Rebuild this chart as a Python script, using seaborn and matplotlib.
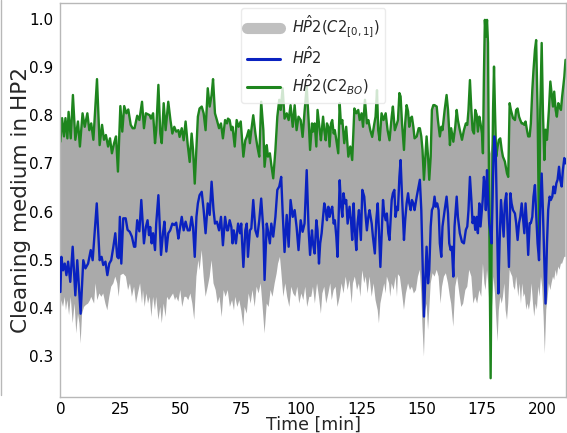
import numpy as np
import pandas as pd
import matplotlib
matplotlib.use("Agg")
import matplotlib.pyplot as plt
from matplotlib.lines import Line2D
import seaborn as sns

# ---------------- data ----------------
green_t = [0, 0.7, 1.5, 2.1, 2.9, 3.4, 4.3, 5.2, 6.2, 7.3, 8.1, 9.2, 10.1, 11.2, 12.0, 12.8, 13.7, 15.2, 16.3, 17.3,
           18.1, 18.9, 19.8, 20.6, 21.4, 22.3, 23.1, 23.9, 24.9, 25.7, 26.5, 27.4, 28.2, 29.2, 30.0, 30.8, 31.9, 32.8,
           33.9, 34.7, 35.5,
           37.1, 37.6, 38.5, 39.3, 39.8, 40.7, 41.5, 42.1, 42.9, 43.7, 44.8, 45.7, 46.5, 47.3, 48.1, 49.0, 49.5, 50.4,
           51.2, 52.0, 52.9, 53.7, 54.5, 55.1, 55.8, 56.5, 57.1, 57.8, 58.7, 59.5, 60.3, 61.2, 62.0, 62.8, 63.4, 64.2,
           65.0, 65.9, 66.7, 67.5, 68.4, 69.2,
           69.6, 70.3, 71.0, 71.5, 72.4, 73.2, 74.0, 74.9, 75.4, 76.0, 76.8, 77.4, 78.2, 78.7, 79.3, 80.1, 81.0, 81.8,
           82.6, 83.4, 84.3, 84.8, 85.7, 86.2, 87.0, 87.6, 88.4, 89.3, 90.1, 90.9, 91.5, 92.3, 93.1, 94.0, 94.8, 95.6,
           96.5, 97.3, 98.1, 98.9, 99.8, 100.6, 101.4, 102.3, 103.1, 103.7, 104.5,
           104.9, 105.6, 106.3, 106.8, 107.7, 108.2, 109.1, 109.6, 110.2, 110.7, 111.3, 111.8, 112.4, 112.9, 113.5,
           114.0, 114.6, 115.4, 116.0, 116.5, 117.1, 117.9, 118.7, 119.6, 120.4, 121.2, 122.1, 122.9, 123.7, 124.3,
           125.1, 125.7, 126.5, 127.3, 127.9, 128.7, 129.5, 130.4, 130.9, 131.5, 132.0, 132.6, 133.4, 134.2, 135.1,
           135.9, 136.7, 137.6, 138.1, 138.9, 139.8,
           140.2, 140.8, 141.3, 141.9, 142.7, 143.2, 143.8, 144.4, 144.9, 145.5, 146.0, 146.6, 147.1, 148.0, 148.8,
           149.3, 149.9, 150.4, 151.0, 151.6, 152.1, 152.7, 153.2, 153.8, 154.3, 154.9, 155.4, 156.3, 156.8, 157.6,
           158.2, 158.7, 159.6, 160.4, 161.0, 161.8, 162.3, 163.2, 164.0, 164.6, 165.1, 165.9, 166.8, 167.6, 168.4,
           169.0, 169.5, 170.1, 170.7, 171.2, 171.8, 172.3, 172.9, 173.4, 174.0, 174.5, 175.1,
           175.5, 175.9, 176.3, 176.7, 177.2, 177.6, 178.1, 178.7, 179.2, 179.7, 180.1, 180.5, 181.0, 181.6, 182.1,
           182.7, 183.3, 183.8, 184.6, 185.5, 186.0, 186.6, 187.1, 188.0, 188.8, 189.3, 189.9, 190.5, 191.0, 191.6,
           192.1, 192.7, 193.2, 193.8, 194.3, 194.9, 195.4, 196.0, 196.5, 197.1, 197.6, 198.2, 198.8, 199.3, 199.9,
           200.4, 201.0, 201.5, 202.1, 202.9, 203.5, 204.0, 204.6, 205.1, 205.7, 206.2, 206.8, 207.3, 207.9, 208.4,
           209.3, 209.8]
green_v = [0.745, 0.794, 0.756, 0.794, 0.752, 0.807, 0.752, 0.842, 0.749, 0.787, 0.735, 0.804, 0.776, 0.804, 0.769,
           0.783, 0.749, 0.875, 0.738, 0.780, 0.749, 0.759, 0.735, 0.752, 0.721, 0.742, 0.756, 0.683, 0.819, 0.766,
           0.819, 0.804, 0.812, 0.780, 0.773, 0.773, 0.799, 0.790, 0.828, 0.773, 0.804,
           0.800, 0.793, 0.804, 0.742, 0.769, 0.863, 0.762, 0.742, 0.825, 0.769, 0.828, 0.790, 0.762, 0.776, 0.766,
           0.769, 0.755, 0.773, 0.748, 0.787, 0.738, 0.703, 0.762, 0.728, 0.658, 0.735, 0.797, 0.814, 0.818, 0.804,
           0.769, 0.856, 0.818, 0.842, 0.875, 0.804, 0.790, 0.773, 0.783, 0.752, 0.790, 0.783,
           0.793, 0.790, 0.769, 0.776, 0.735, 0.790, 0.776, 0.787, 0.755, 0.714, 0.748, 0.755, 0.769, 0.742, 0.769,
           0.800, 0.762, 0.735, 0.714, 0.828, 0.769, 0.693, 0.738, 0.714, 0.721, 0.697, 0.669, 0.728, 0.797, 0.832,
           0.811, 0.856, 0.793, 0.804, 0.790, 0.821, 0.776, 0.821, 0.769, 0.797, 0.790, 0.755, 0.807, 0.859, 0.790,
           0.728, 0.783,
           0.766, 0.783, 0.735, 0.811, 0.769, 0.748, 0.797, 0.769, 0.748, 0.783, 0.776, 0.735, 0.783, 0.790, 0.762,
           0.769, 0.748, 0.721, 0.825, 0.783, 0.790, 0.742, 0.776, 0.714, 0.735, 0.707, 0.814, 0.804, 0.811, 0.790,
           0.804, 0.776, 0.832, 0.783, 0.790, 0.769, 0.755, 0.783, 0.797, 0.852, 0.769, 0.748, 0.804, 0.790, 0.804,
           0.769, 0.748, 0.797, 0.818, 0.769, 0.783,
           0.790, 0.846, 0.839, 0.783, 0.728, 0.783, 0.821, 0.808, 0.776, 0.794, 0.797, 0.776, 0.752, 0.756, 0.773,
           0.773, 0.756, 0.728, 0.666, 0.714, 0.756, 0.714, 0.666, 0.714, 0.811, 0.821, 0.821, 0.818, 0.790, 0.756,
           0.776, 0.769, 0.811, 0.842, 0.811, 0.738, 0.773, 0.745, 0.776, 0.811, 0.790, 0.769, 0.749, 0.769, 0.783,
           0.780, 0.811, 0.873, 0.811, 0.769, 0.762, 0.811, 0.801, 0.766, 0.797, 0.783, 0.762,
           0.721, 0.880, 0.998, 0.963, 0.998, 0.950, 0.603, 0.254, 0.603, 0.811, 0.901, 0.811, 0.714, 0.735, 0.749,
           0.752, 0.728, 0.714, 0.704, 0.679, 0.672, 0.825, 0.811, 0.794, 0.790, 0.811, 0.814, 0.797, 0.790, 0.783,
           0.783, 0.780, 0.787, 0.769, 0.756, 0.756, 0.783, 0.852, 0.894, 0.936, 0.956, 0.811, 0.541, 0.811, 0.950,
           0.811, 0.707, 0.770, 0.749, 0.811, 0.870, 0.846, 0.818, 0.849, 0.811, 0.797, 0.825, 0.818, 0.811, 0.839,
           0.880, 0.915]

# upper edge of the grey band where it departs from the BO curve (its deep dip near t = 178-179)
band_top_t = [178.1, 178.7, 179.2]
band_top_v = [0.740, 0.720, 0.740]

blue_t = [0, 0.4, 1.1, 1.8, 2.5, 3.2, 4.1, 5.1, 6.2, 7.0, 8.4, 9.5, 10.4, 11.5, 12.6, 13.4, 15.1, 16.3, 17.1, 17.8,
          18.7, 19.5, 20.3, 21.1, 22.0, 22.8, 23.6, 24.2, 24.7, 25.3, 26.1, 27.1, 27.9, 28.8, 29.7, 30.6, 31.1, 31.9,
          32.8, 33.6, 34.7, 35.5,
          36.2, 36.8, 37.3, 37.9, 38.5, 39.3, 39.8, 40.7, 41.8, 42.6, 43.2, 44.0, 44.8, 45.6, 46.5, 47.3, 48.1, 49.0,
          49.5, 50.4, 51.2, 52.0, 52.9, 53.7, 54.5, 55.1, 55.8, 56.5, 57.1, 57.8, 58.7, 59.5, 60.3, 61.2, 62.0, 62.8,
          63.6, 64.2, 65.0, 65.9, 66.7, 67.5, 68.4, 69.2,
          69.6, 70.3, 71.0, 71.5, 72.0, 72.9, 73.8, 74.6, 75.1, 76.0, 76.8, 77.4, 77.9, 78.7, 79.3, 80.1, 81.0, 81.8,
          82.6, 83.4, 84.3, 84.8, 85.7, 86.2, 87.0, 87.6, 88.4, 89.3, 90.1, 90.9, 91.7, 92.3, 93.1, 94.0, 94.8, 95.6,
          96.5, 97.3, 98.1, 98.9, 99.8, 100.6, 101.4, 102.3, 103.1, 103.7, 104.5,
          104.9, 105.6, 106.3, 106.8, 107.4, 107.9, 108.5, 109.1, 109.6, 110.2, 110.7, 111.3, 111.8, 112.4, 112.9,
          113.5, 114.0, 114.6, 115.1, 116.0, 116.5, 117.1, 117.6, 118.2, 118.7, 119.3, 120.1, 120.7, 121.2, 121.8,
          122.3, 122.9, 123.4, 124.0, 124.8, 125.4, 126.2, 126.8, 127.3, 127.9, 128.4, 129.3, 129.8, 130.6, 131.2,
          131.8, 132.3, 132.9, 133.4, 134.0, 134.5, 135.1, 135.6, 136.2, 136.7, 137.6, 138.1, 138.7, 139.2, 139.8,
          140.2, 140.8, 141.3, 141.9, 142.7, 143.2, 143.8, 144.4, 144.9, 145.5, 146.0, 146.6, 147.1, 148.0, 148.8,
          149.3, 149.9, 150.4, 151.0, 151.6, 152.1, 152.7, 153.2, 153.8, 154.3, 154.9, 155.4, 155.9, 156.5, 157.1,
          157.6, 158.2, 158.7, 159.6, 160.4, 161.0, 161.5, 162.1, 162.6, 163.2, 163.7, 164.6, 165.1, 165.9, 166.8,
          167.6, 168.4, 169.0, 169.5, 170.1, 170.7, 171.2, 171.8, 172.3, 172.9, 173.4, 174.0, 174.5, 175.4,
          175.9, 176.3, 176.7, 177.2, 177.6, 178.1, 178.5, 179.1, 179.7, 180.2, 180.8, 181.3, 181.9, 182.4, 183.0,
          183.5, 184.1, 184.6, 185.2, 185.7, 186.3, 186.9, 187.4, 188.0, 188.8, 189.3, 189.9, 190.5, 191.0, 191.6,
          192.1, 192.7, 193.2, 193.8, 194.3, 194.9, 195.4, 196.0, 196.5, 197.1, 197.6, 198.2, 198.8, 199.3, 199.9,
          200.4, 201.0, 201.5, 202.1, 202.6, 203.2, 203.7, 204.3, 204.8, 205.4, 206.0, 206.5, 207.1, 207.6, 208.2,
          208.7, 209.3, 209.8]
blue_v = [0.433, 0.506, 0.478, 0.492, 0.468, 0.496, 0.454, 0.527, 0.426, 0.499, 0.388, 0.499, 0.482, 0.492, 0.520,
          0.499, 0.617, 0.499, 0.506, 0.489, 0.496, 0.468, 0.492, 0.499, 0.527, 0.555, 0.506, 0.503, 0.589, 0.492,
          0.586, 0.586, 0.562, 0.558, 0.548, 0.527, 0.527, 0.582, 0.559, 0.624, 0.534, 0.568,
          0.582, 0.551, 0.568, 0.534, 0.555, 0.520, 0.575, 0.634, 0.510, 0.555, 0.579, 0.517, 0.555, 0.561, 0.575,
          0.572, 0.577, 0.544, 0.561, 0.589, 0.561, 0.579, 0.561, 0.561, 0.589, 0.568, 0.506, 0.589, 0.617, 0.634,
          0.641, 0.603, 0.555, 0.617, 0.593, 0.662, 0.603, 0.575, 0.579, 0.561, 0.589, 0.530, 0.589, 0.561,
          0.561, 0.582, 0.568, 0.534, 0.561, 0.534, 0.575, 0.555, 0.575, 0.485, 0.561, 0.575, 0.506, 0.561, 0.565,
          0.624, 0.561, 0.548, 0.582, 0.627, 0.561, 0.458, 0.575, 0.561, 0.534, 0.575, 0.548, 0.589, 0.645, 0.652,
          0.672, 0.600, 0.516, 0.593, 0.527, 0.624, 0.589, 0.603, 0.568, 0.520, 0.582, 0.558, 0.575, 0.686, 0.561,
          0.510, 0.561,
          0.534, 0.513, 0.582, 0.561, 0.492, 0.534, 0.555, 0.589, 0.617, 0.603, 0.582, 0.610, 0.589, 0.603, 0.610,
          0.575, 0.582, 0.548, 0.506, 0.665, 0.617, 0.589, 0.638, 0.617, 0.624, 0.575, 0.610, 0.582, 0.541, 0.617,
          0.561, 0.520, 0.575, 0.603, 0.541, 0.645, 0.631, 0.589, 0.561, 0.589, 0.603, 0.575, 0.548, 0.513, 0.582,
          0.617, 0.561, 0.485, 0.548, 0.624, 0.596, 0.582, 0.596, 0.555, 0.541, 0.624, 0.638, 0.645, 0.589, 0.610,
          0.603, 0.672, 0.707, 0.631, 0.541, 0.582, 0.617, 0.638, 0.617, 0.603, 0.624, 0.617, 0.603, 0.631, 0.652,
          0.666, 0.603, 0.499, 0.382, 0.465, 0.527, 0.451, 0.479, 0.569, 0.603, 0.610, 0.631, 0.610, 0.617, 0.603,
          0.534, 0.506, 0.569, 0.603, 0.631, 0.596, 0.534, 0.520, 0.527, 0.465, 0.569, 0.631, 0.589, 0.555, 0.537,
          0.534, 0.562, 0.569, 0.603, 0.672, 0.624, 0.576, 0.589, 0.562, 0.589, 0.555, 0.617, 0.569, 0.624,
          0.672, 0.652, 0.603, 0.686, 0.631, 0.575, 0.562, 0.534, 0.672, 0.756, 0.728, 0.589, 0.430, 0.534, 0.624,
          0.589, 0.548, 0.617, 0.638, 0.569, 0.485, 0.638, 0.617, 0.603, 0.596, 0.576, 0.541, 0.576, 0.589, 0.617,
          0.589, 0.555, 0.617, 0.569, 0.510, 0.576, 0.576, 0.589, 0.631, 0.655, 0.596, 0.534, 0.499, 0.603, 0.679,
          0.603, 0.499, 0.409, 0.534, 0.603, 0.631, 0.624, 0.631, 0.652, 0.638, 0.659, 0.666, 0.693, 0.666, 0.652,
          0.686, 0.711, 0.700]

lower_t = [0, 0.4, 1.1, 1.8, 2.3, 2.9, 3.6, 4.3, 5.1, 5.9, 6.6, 7.3, 7.9, 8.4, 9.0, 9.8, 10.6, 11.5, 12.3, 12.8,
           14.0, 14.6, 15.3, 16.2, 17.0, 17.8, 18.7, 19.5, 20.3, 21.1, 22.0, 22.8, 23.6, 24.2, 25.0, 26.1, 27.2, 28.1,
           28.9, 29.7, 30.6, 31.4, 32.2, 33.1, 33.9,
           34.3, 35.0, 35.7, 36.4, 37.1, 37.8, 38.5, 39.3, 39.8, 40.7, 41.5, 42.1, 42.9, 43.7, 44.3, 45.1, 45.9, 46.8,
           47.6, 48.1, 49.0, 49.8, 50.6, 51.5, 52.3, 53.1, 54.0, 54.8, 55.6, 56.5, 57.3, 57.8, 58.7, 59.5, 60.3, 61.2,
           62.0, 62.8, 63.6, 64.5, 65.3, 66.1, 67.0, 67.8, 68.6, 69.5,
           70.4, 71.3, 72.1, 72.6, 73.5, 74.3, 75.1, 76.0, 76.5, 77.4, 78.2, 79.0, 79.8, 80.7, 81.5, 82.3, 83.2, 84.0,
           84.8, 85.7, 86.5, 87.3, 88.1, 89.0, 89.8, 90.4, 91.2, 91.7, 92.6, 93.4, 94.2, 95.1, 95.9, 96.7, 97.6, 98.4,
           99.2, 100.1, 100.9, 101.7, 102.5, 103.4, 104.2,
           104.9, 105.7, 106.6, 107.4, 108.2, 108.8, 109.6, 110.4, 111.3, 112.1, 112.7, 113.5, 114.3, 115.1, 116.0,
           116.8, 117.6, 118.5, 119.3, 120.1, 121.0, 121.5, 122.3, 123.2, 124.0, 124.6, 125.4, 126.2, 126.8, 127.6,
           128.4, 129.3, 130.1, 130.9, 131.8, 132.3, 132.9, 133.7, 134.5, 135.1, 135.6, 136.5, 137.0, 137.6, 138.4,
           139.2, 139.8,
           140.2, 141.0, 141.9, 142.7, 143.5, 144.4, 145.2, 146.0, 146.8, 147.7, 148.5, 149.3, 149.9, 150.4, 151.0,
           151.6, 152.1, 152.7, 153.2, 153.8, 154.6, 155.4, 156.3, 157.1, 157.9, 158.5, 159.3, 160.1, 161.0, 161.8,
           162.3, 163.2, 164.0, 164.8, 165.7, 166.5, 167.3, 168.2, 169.0, 169.8, 170.7, 171.5, 172.3, 173.1, 174.0,
           174.8,
           175.5, 176.1, 176.6, 177.2, 177.7, 178.3, 178.8, 179.4, 179.9, 180.5, 181.0, 181.6, 182.1, 182.7, 183.3,
           183.8, 184.4, 184.9, 185.5, 186.0, 186.6, 187.1, 187.7, 188.2, 188.8, 189.3, 190.2, 190.7, 191.3, 191.8,
           192.4, 192.9, 193.5, 194.0, 194.6, 195.2, 195.7, 196.3, 196.8, 197.4, 197.9, 198.5, 199.0, 199.6, 200.1,
           200.7, 201.2, 201.8, 202.4, 202.9, 203.5, 204.0, 204.6, 205.1, 205.7, 206.2, 206.8, 207.3, 207.9, 208.4,
           209.3, 209.8]
lower_v = [0.375, 0.416, 0.402, 0.423, 0.395, 0.416, 0.385, 0.423, 0.368, 0.409, 0.347, 0.388, 0.368, 0.326, 0.388,
           0.402, 0.406, 0.409, 0.416, 0.423, 0.409, 0.451, 0.416, 0.430, 0.423, 0.430, 0.409, 0.395, 0.423, 0.444,
           0.451, 0.465, 0.451, 0.423, 0.468, 0.471, 0.465, 0.437, 0.451, 0.423, 0.444, 0.409, 0.430, 0.451, 0.409,
           0.437, 0.402, 0.430, 0.409, 0.423, 0.381, 0.423, 0.395, 0.423, 0.375, 0.402, 0.368, 0.409, 0.381, 0.423,
           0.416, 0.423, 0.430, 0.416, 0.423, 0.413, 0.437, 0.402, 0.423, 0.423, 0.416, 0.430, 0.409, 0.375, 0.465,
           0.499, 0.478, 0.520, 0.465, 0.423, 0.444, 0.465, 0.499, 0.451, 0.437, 0.409, 0.423, 0.381, 0.437, 0.423,
           0.437,
           0.402, 0.416, 0.395, 0.423, 0.402, 0.416, 0.395, 0.361, 0.402, 0.388, 0.430, 0.409, 0.437, 0.402, 0.444,
           0.430, 0.451, 0.402, 0.347, 0.409, 0.402, 0.437, 0.423, 0.451, 0.471, 0.492, 0.506, 0.478, 0.423, 0.451,
           0.423, 0.402, 0.444, 0.430, 0.423, 0.444, 0.409, 0.430, 0.416, 0.444, 0.402, 0.423, 0.423,
           0.444, 0.409, 0.451, 0.423, 0.388, 0.430, 0.444, 0.409, 0.430, 0.451, 0.416, 0.437, 0.444, 0.402, 0.423,
           0.451, 0.430, 0.465, 0.437, 0.458, 0.409, 0.451, 0.465, 0.437, 0.451, 0.423, 0.478, 0.451, 0.465, 0.430,
           0.465, 0.423, 0.451, 0.416, 0.395, 0.368, 0.409, 0.430, 0.451, 0.430, 0.465, 0.451, 0.423, 0.451, 0.437,
           0.465, 0.423,
           0.470, 0.465, 0.430, 0.396, 0.430, 0.451, 0.437, 0.444, 0.430, 0.437, 0.465, 0.479, 0.430, 0.361, 0.299,
           0.396, 0.409, 0.354, 0.396, 0.451, 0.472, 0.465, 0.479, 0.465, 0.409, 0.444, 0.465, 0.472, 0.451, 0.423,
           0.409, 0.361, 0.444, 0.465, 0.430, 0.402, 0.409, 0.437, 0.444, 0.479, 0.465, 0.409, 0.423, 0.409, 0.437,
           0.423,
           0.492, 0.451, 0.437, 0.479, 0.451, 0.396, 0.354, 0.416, 0.465, 0.430, 0.382, 0.330, 0.396, 0.423, 0.409,
           0.423, 0.451, 0.396, 0.375, 0.409, 0.479, 0.472, 0.465, 0.444, 0.437, 0.465, 0.423, 0.451, 0.409, 0.451,
           0.423, 0.430, 0.396, 0.409, 0.396, 0.416, 0.451, 0.409, 0.382, 0.409, 0.396, 0.444, 0.423, 0.465, 0.444,
           0.382, 0.305, 0.396, 0.423, 0.451, 0.437, 0.451, 0.465, 0.458, 0.479, 0.465, 0.486, 0.479, 0.492, 0.492,
           0.506, 0.506]

x_ticks = [0, 25, 50, 75, 100, 125, 150, 175, 200]
y_ticks = [0.3, 0.4, 0.5, 0.6, 0.7, 0.8, 0.9, 1.0]
labels = [r"$H\hat{P}2(C2_{[0,1]})$", r"$H\hat{P}2$", r"$H\hat{P}2(C2_{BO})$"]
x_label = "Time [min]"
y_label = "Cleaning medium in HP2"

# ---------------- style ----------------
sns.set_style("white")
plt.rcParams["font.family"] = ["DejaVu Sans"]
plt.rcParams["mathtext.fontset"] = "dejavusans"

BAND = "#aaaaaa"
BAND_LEG = "#c0c0c0"
BLUE = "#0a22c0"
GREEN = "#1e851e"
SPINE = "#b8b8b8"

fig = plt.figure(figsize=(5.67, 4.33), dpi=100)
ax = fig.add_axes([60.4 / 567, 1 - 397 / 433, (566 - 60.4) / 567, (397 - 3) / 433])

# grey band: upper edge follows the BO curve except at its deep dip
top_t = list(green_t)
top_v = list(green_v)
for tt, vv in zip(band_top_t, band_top_v):
    top_v[top_t.index(tt)] = vv
poly_x = np.concatenate([np.asarray(top_t), np.asarray(lower_t)[::-1]])
poly_y = np.concatenate([np.asarray(top_v), np.asarray(lower_v)[::-1]])
ax.fill(poly_x, poly_y, color=BAND, lw=0, zorder=1)

df_blue = pd.DataFrame({"t": blue_t, "v": blue_v})
df_green = pd.DataFrame({"t": green_t, "v": green_v})
sns.lineplot(data=df_blue, x="t", y="v", ax=ax, color=BLUE, lw=1.7, zorder=3, legend=False)
sns.lineplot(data=df_green, x="t", y="v", ax=ax, color=GREEN, lw=1.7, zorder=2, legend=False)

ax.set_xlim(0, 210)
ax.set_ylim(0.215, 1.033)
ax.set_xticks(x_ticks)
ax.set_yticks(y_ticks)
ax.set_yticklabels([f"{v:.1f}" for v in y_ticks])
ax.tick_params(axis="both", direction="in", length=4, color=SPINE, labelsize=11,
               labelcolor="black")
ax.tick_params(axis="y", pad=5)
ax.tick_params(axis="x", pad=3.5)
for s in ax.spines.values():
    s.set_color(SPINE)
    s.set_linewidth(1.0)
ax.set_xlabel(x_label, fontsize=12.5, labelpad=-1.0)
ax.set_ylabel(y_label, fontsize=15.5, labelpad=-1.5)

handles = [Line2D([], [], color=BAND_LEG, lw=8),
           Line2D([], [], color=BLUE, lw=2.2),
           Line2D([], [], color=GREEN, lw=2.2)]
leg = ax.legend(handles, labels, loc="upper center", fontsize=10.5, handlelength=2.3,
                labelspacing=0.36, frameon=True, framealpha=0.8, borderaxespad=0.35)
leg.get_frame().set_edgecolor("#e6e6e6")

# thin stray border line at the far left of the reference image
fig.add_artist(Line2D([0.0018, 0.0018], [1 - 395 / 433, 1.0], transform=fig.transFigure,
                      color=SPINE, lw=1.0))

fig.savefig("out.png", dpi=100)
